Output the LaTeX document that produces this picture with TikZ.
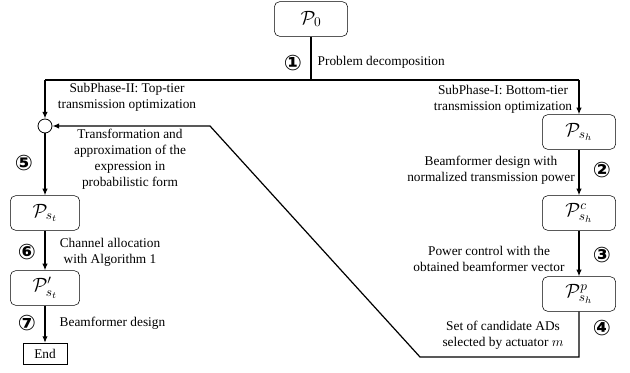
\documentclass[tikz,border=0pt]{standalone}
\usepackage{amsmath}
\usepackage{fontspec}
\setmainfont{Liberation Serif}
\newfontfamily\circfont{DejaVu Sans}
\usetikzlibrary{positioning,arrows.meta}

\begin{document}
\begin{tikzpicture}[x=0.75pt,y=-0.75pt,
    stage/.style={draw, rounded corners=4pt, minimum width=55pt, minimum height=26pt, inner sep=1pt, font=\Large},
    flow/.style={line width=0.9pt, -{Latex[length=5pt,width=4pt]}},
    link/.style={line width=0.9pt},
    num/.style={font=\circfont\bfseries\fontsize{16}{16}\selectfont, inner sep=0pt},
    note/.style={align=center, font=\normalsize}]
    \useasboundingbox (0,0) rectangle (630,373);

    % Stages
    \node[stage] (p0) at (311,19) {$\mathcal{P}_0$};
    \node[stage] (psh) at (579,132) {$\mathcal{P}_{s_h}$};
    \node[stage] (pc) at (579,213) {$\mathcal{P}^c_{s_h}$};
    \node[stage] (pp) at (579,294) {$\mathcal{P}^p_{s_h}$};
    \node[draw, circle, minimum size=10.5pt, inner sep=0pt, line width=0.6pt] (merge) at (45,126) {};
    \node[stage, minimum width=52pt] (pst) at (45,213) {$\mathcal{P}_{s_t}$};
    \node[stage, minimum width=52pt] (pst2) at (45,288) {$\mathcal{P}'_{s_t}$};
    \node[draw, line width=0.6pt, minimum width=33pt, minimum height=16pt] (end) at (45,354) {End};

    % Branch points
    \coordinate (split) at (311,80);
    \coordinate (lcorner) at (45,80);
    \coordinate (rcorner) at (579,80);
    \coordinate (fb1) at (579,357);
    \coordinate (fb2) at (420,357);
    \coordinate (fb3) at (210,126);

    % Connectors
    \draw[link] (p0) -- (split);
    \draw[link] (lcorner) -- (rcorner);
    \draw[flow] (lcorner) -- (merge);
    \draw[flow] (rcorner) -- (psh);
    \draw[flow] (psh) -- (pc);
    \draw[flow] (pc) -- (pp);
    \draw[flow] (pp) -- (fb1) -- (fb2) -- (fb3) -- (merge);
    \draw[flow] (merge) -- (pst);
    \draw[flow] (pst) -- (pst2);
    \draw[flow] (pst2) -- (end);

    % Step numbers
    \node[num] (n1) at (293,63) {①};
    \node[num] (n2) at (602,170) {②};
    \node[num] (n3) at (602,255) {③};
    \node[num] (n4) at (602,328) {④};
    \node[num] (n5) at (24,163) {⑤};
    \node[num] (n6) at (27,252) {⑥};
    \node[num] (n7) at (27,323) {⑦};

    % Labels
    \node[note, anchor=west] (t1) at (313,62) {Problem decomposition};
    \node[note] (t2) at (127,97) {SubPhase-II: Top-tier\\transmission optimization};
    \node[note] (t3) at (503,99) {SubPhase-I: Bottom-tier\\transmission optimization};
    \node[note] (t4) at (491,170) {Beamformer design with\\normalized transmission power};
    \node[note] (t5) at (489,259) {Power control with the\\obtained beamformer vector};
    \node[note] (t6) at (503,335) {Set of candidate ADs\\selected by actuator $m$};
    \node[note] (t7) at (130,159) {Transformation and\\approximation of the\\expression in\\probabilistic form};
    \node[note] (t8) at (110,252) {Channel allocation\\with Algorithm 1};
    \node[note, anchor=west] (t9) at (55,323) {Beamformer design};
\end{tikzpicture}
\end{document}
